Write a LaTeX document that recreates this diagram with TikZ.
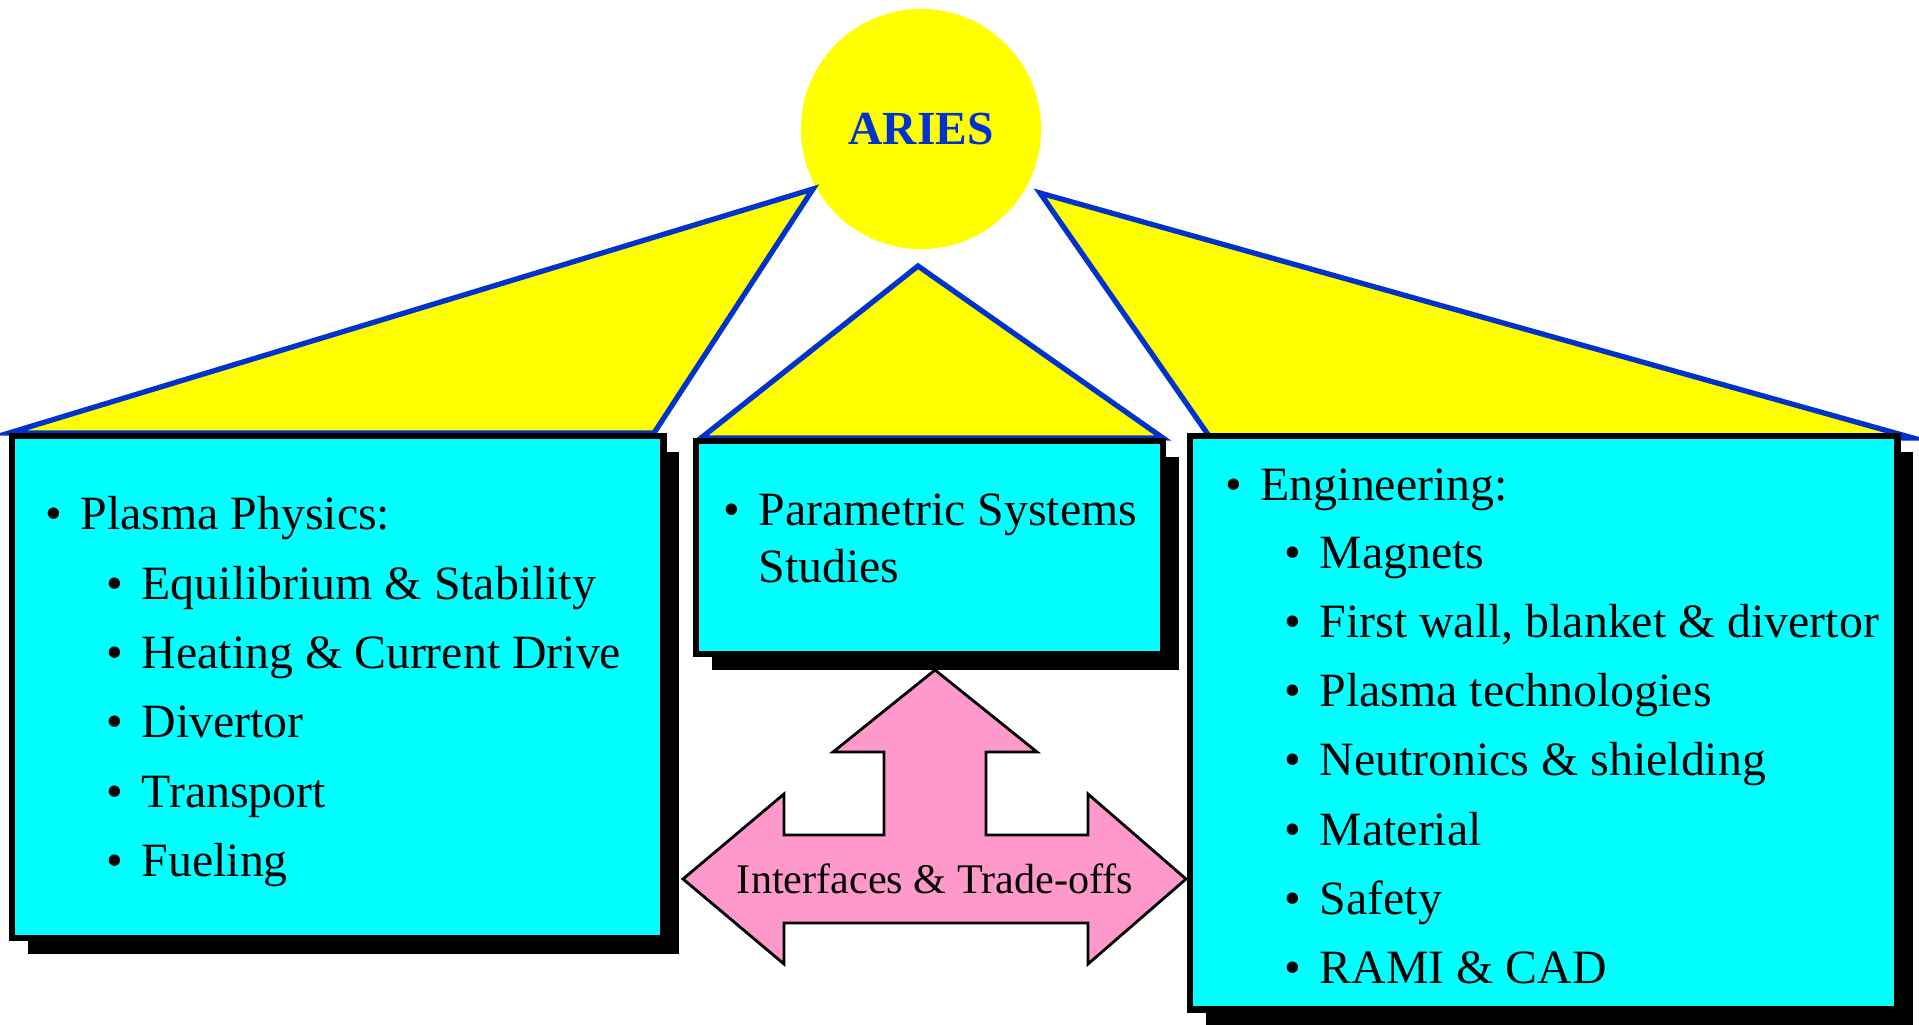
\documentclass[tikz,border=0pt]{standalone}
\usepackage{fontspec}
\setmainfont{Liberation Serif}
\usetikzlibrary{shadows}

\definecolor{ariesblue}{RGB}{0,51,204}
\definecolor{fanyellow}{RGB}{255,255,0}
\definecolor{boxcyan}{RGB}{0,255,255}
\definecolor{arrowpink}{RGB}{255,153,204}
\newcommand{\bul}{\makebox[0.35cm][l]{\textbullet}}

\tikzset{
  fan/.style={fill=fanyellow, draw=ariesblue, line width=1.5pt},
  topic/.style={draw=black, fill=boxcyan, line width=1.8pt, outer sep=0pt, inner sep=0pt, anchor=north west,
    drop shadow={shadow xshift=0.16cm, shadow yshift=-0.16cm, opacity=1, fill=black}},
  item/.style={anchor=base west, inner sep=0pt, font=\fontsize{13.6}{16}\selectfont},
  tradearrow/.style={fill=arrowpink, draw=black, line width=0.8pt},
}

\begin{document}
\begin{tikzpicture}[x=0.01cm,y=-0.01cm]
  \useasboundingbox (0,0) rectangle (1919,1025);

  \node[circle, fill=fanyellow, minimum size=2.4cm, text=ariesblue,
        font=\bfseries\fontsize{13.5}{16}\selectfont] (aries) at (921,129) {ARIES};

  % the three fans under ARIES
  \draw[fan] (813,189) -- (9,433) -- (654,433) -- cycle;
  \draw[fan] (918,266) -- (701,438) -- (1163,438) -- cycle;
  \draw[fan] (1040,193) -- (1209,436) -- (1913,438) -- cycle;

  % boxes
  \node[topic, minimum width=6.51cm, minimum height=5.02cm] (phys) at (12,436) {};
  \node[topic, minimum width=4.67cm, minimum height=2.13cm] (sys) at (696,441) {};
  \node[topic, minimum width=7.07cm, minimum height=5.73cm] (eng) at (1190,436) {};

  \node[item] (physhead) at (45,530) {\bul Plasma Physics:};
  \foreach \txt [count=\i] in {Equilibrium \& Stability, Heating \& Current Drive, Divertor, Transport, Fueling}
    \node[item] (phys\i) at (106,530+69.3*\i) {\bul \txt};

  \node[item] (syshead) at (723,525) {\bul Parametric Systems};
  \node[item] (sys2) at (758,583) {Studies};

  \node[item] (enghead) at (1225,501) {\bul Engineering:};
  \foreach \txt [count=\i] in {Magnets, {First wall, blanket \& divertor}, Plasma technologies,
      Neutronics \& shielding, Material, Safety, RAMI \& CAD}
    \node[item] (eng\i) at (1284,499+69.2*\i) {\bul \txt};

  % three-way arrow
  \draw[tradearrow] (935,670) -- (1037,752) -- (986,752) -- (986,835) -- (1088,835) -- (1088,794)
    -- (1186,879) -- (1088,964) -- (1088,923) -- (784,923) -- (784,964) -- (683,879)
    -- (784,794) -- (784,835) -- (884,835) -- (884,752) -- (833,752) -- cycle;
  \node[font=\fontsize{12}{14}\selectfont] (trade) at (935,879) {Interfaces \& Trade-offs};
\end{tikzpicture}
\end{document}
